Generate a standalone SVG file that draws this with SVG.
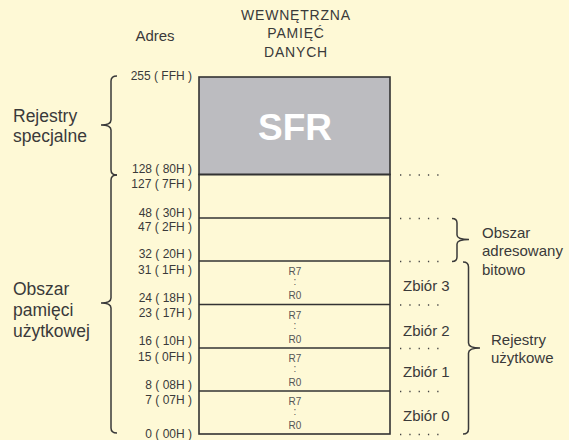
<svg xmlns="http://www.w3.org/2000/svg" width="569" height="440" viewBox="0 0 569 440">
<style>
text{font-family:"Liberation Sans",Arial,sans-serif;fill:#3a3a3a}
.addr{font-size:12px;text-anchor:end}
.big{font-size:17.5px}
.mid{font-size:15px}
.head{font-size:14px;text-anchor:middle;letter-spacing:0.8px}
.reg{font-size:10px;text-anchor:middle;fill:#555}
.box{fill:none;stroke:#333;stroke-width:1.6}
.brace{fill:none;stroke:#3a3a3a;stroke-width:1.5}
.dots{stroke:#444;stroke-width:1.3;stroke-dasharray:1.3 8}
</style>
<rect width="569" height="440" fill="#fef9d6"/>
<g id="headers">
<text x="155" y="41" style="font-size:15px;text-anchor:middle">Adres</text>
<text class="head" x="296" y="20">WEWNĘTRZNA</text>
<text class="head" x="296" y="38">PAMIĘĆ</text>
<text class="head" x="296" y="57">DANYCH</text>
</g>
<g id="memory">
<rect x="199" y="77" width="191" height="97.5" fill="#bcbcc0" stroke="#333" stroke-width="1.6"/>
<text x="295" y="140" style="font-size:37px;font-weight:bold;fill:#fff;text-anchor:middle">SFR</text>
<rect class="box" x="199" y="174.5" width="191" height="259.5"/>
<line class="box" x1="199" y1="218" x2="390" y2="218"/>
<line class="box" x1="199" y1="261" x2="390" y2="261"/>
<line class="box" x1="199" y1="304.5" x2="390" y2="304.5"/>
<line class="box" x1="199" y1="348" x2="390" y2="348"/>
<line class="box" x1="199" y1="391" x2="390" y2="391"/>
</g>
<g id="registers">
<text class="reg" x="295" y="275">R7</text><text class="reg" x="295" y="285">:</text><text class="reg" x="295" y="299">R0</text>
<text class="reg" x="295" y="318.5">R7</text><text class="reg" x="295" y="328.5">:</text><text class="reg" x="295" y="342.5">R0</text>
<text class="reg" x="295" y="362">R7</text><text class="reg" x="295" y="372">:</text><text class="reg" x="295" y="386">R0</text>
<text class="reg" x="295" y="405">R7</text><text class="reg" x="295" y="415">:</text><text class="reg" x="295" y="429">R0</text>
</g>
<g id="addresses">
<text class="addr" x="192" y="79.5">255 ( FFH )</text>
<text class="addr" x="192" y="172.5">128 ( 80H )</text>
<text class="addr" x="192" y="187.5">127 ( 7FH )</text>
<text class="addr" x="192" y="216.5">48 ( 30H )</text>
<text class="addr" x="192" y="231">47 ( 2FH )</text>
<text class="addr" x="192" y="257.5">32 ( 20H )</text>
<text class="addr" x="192" y="273.5">31 ( 1FH )</text>
<text class="addr" x="192" y="302">24 ( 18H )</text>
<text class="addr" x="192" y="316.5">23 ( 17H )</text>
<text class="addr" x="192" y="345">16 ( 10H )</text>
<text class="addr" x="192" y="360.5">15 ( 0FH )</text>
<text class="addr" x="192" y="389">8 ( 08H )</text>
<text class="addr" x="192" y="403.5">7 ( 07H )</text>
<text class="addr" x="192" y="437.5">0 ( 00H )</text>
</g>
<g id="connectors">
<line class="dots" x1="400" y1="175" x2="442" y2="175"/>
<line class="dots" x1="400" y1="218.5" x2="442" y2="218.5"/>
<line class="dots" x1="400" y1="261.5" x2="442" y2="261.5"/>
<line class="dots" x1="400" y1="305" x2="442" y2="305"/>
<line class="dots" x1="400" y1="348.5" x2="442" y2="348.5"/>
<line class="dots" x1="400" y1="391.5" x2="442" y2="391.5"/>
<line class="dots" x1="400" y1="434.5" x2="442" y2="434.5"/>
<path class="brace" d="M117,76 Q111,76 111,81 L111,120 Q111,125 101,125 Q111,125 111,130 L111,170 Q111,175 117,175"/>
<path class="brace" d="M117,175 Q111,175 111,180 L111,298 Q111,303 101,303 Q111,303 111,308 L111,428 Q111,433 117,433"/>
<path class="brace" d="M452,218.5 Q457,218.5 457,223 L457,235 Q457,239.5 469,239.5 Q457,239.5 457,244 L457,257 Q457,261.5 452,261.5"/>
<path class="brace" d="M463,262 Q468.5,262 468.5,267 L468.5,343 Q468.5,348 480,348 Q468.5,348 468.5,353 L468.5,429 Q468.5,434 463,434"/>
</g>
<g id="labels">
<text class="big" x="13" y="122">Rejestry</text>
<text class="big" x="13" y="142">specjalne</text>
<text class="big" x="13" y="295">Obszar</text>
<text class="big" x="13" y="316">pamięci</text>
<text class="big" x="13" y="337">użytkowej</text>
<text class="mid" x="482" y="237.5">Obszar</text>
<text class="mid" x="482" y="256">adresowany</text>
<text class="mid" x="482" y="274.5">bitowo</text>
<text class="mid" x="491" y="344.5">Rejestry</text>
<text class="mid" x="491" y="363">użytkowe</text>
<text class="mid" x="403" y="291">Zbiór 3</text>
<text class="mid" x="403" y="335.5">Zbiór 2</text>
<text class="mid" x="403" y="377">Zbiór 1</text>
<text class="mid" x="403" y="421">Zbiór 0</text>
</g>
</svg>
